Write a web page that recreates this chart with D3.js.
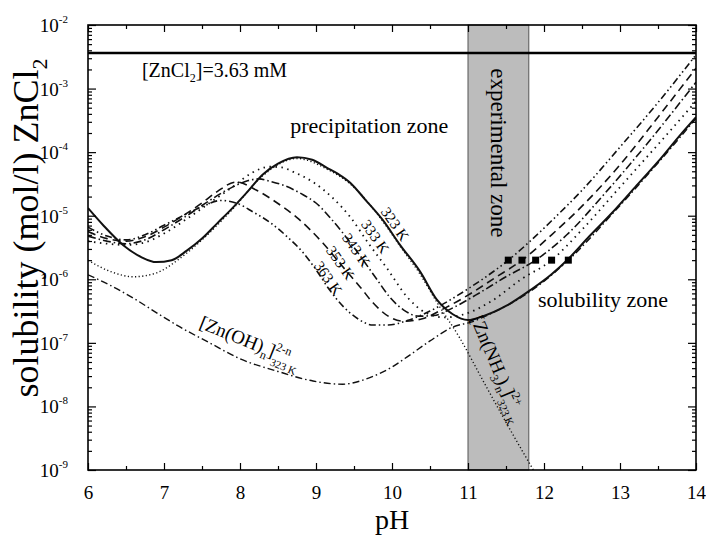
<!DOCTYPE html>
<html>
<head>
<meta charset="utf-8">
<script src="https://cdn.jsdelivr.net/npm/d3@7"></script>
<style>
  body { margin: 0; background: #fff; }
  svg { display: block; font-family: "Liberation Serif", "Times New Roman", serif; }
</style>
</head>
<body>
<div id="chart"></div>
<script>
// pH samples and log10(solubility), one pair per curve
const ph323 = [6.0, 6.2, 6.46, 6.7, 6.9, 7.1, 7.3, 7.5, 7.7, 7.9, 8.1, 8.3, 8.5, 8.75, 8.95, 9.15, 9.3, 9.45, 9.65, 9.88, 10.1, 10.37, 10.59, 10.8, 11.0, 11.2, 11.5, 11.82, 12.1, 12.32, 12.6, 12.9, 13.2, 13.5, 13.8, 14.0]
const lg323 = [-4.88, -5.15, -5.46, -5.65, -5.73, -5.7, -5.55, -5.36, -5.12, -4.88, -4.62, -4.35, -4.18, -4.08, -4.12, -4.25, -4.35, -4.48, -4.75, -5.07, -5.45, -5.88, -6.32, -6.55, -6.64, -6.58, -6.42, -6.17, -5.92, -5.68, -5.32, -4.95, -4.55, -4.15, -3.72, -3.45]

const ph333 = [6.0, 6.25, 6.5, 6.75, 7.0, 7.3, 7.6, 7.9, 8.15, 8.39, 8.55, 8.7, 8.96, 9.22, 9.45, 9.7, 9.93, 10.2, 10.45, 10.7, 10.95, 11.3, 11.7, 12.1, 12.5, 13.0, 13.5, 14.0]
const lg333 = [-5.4, -5.44, -5.46, -5.42, -5.28, -5.05, -4.8, -4.55, -4.33, -4.23, -4.24, -4.31, -4.47, -4.72, -5.02, -5.45, -5.82, -6.28, -6.53, -6.6, -6.55, -6.35, -6.0, -5.7, -5.22, -4.55, -3.88, -3.2]

const ph343 = [6.0, 6.25, 6.5, 6.75, 7.0, 7.3, 7.6, 7.9, 8.1, 8.25, 8.4, 8.57, 8.83, 9.0, 9.2, 9.5, 9.8, 9.97, 10.15, 10.35, 10.55, 10.8, 11.1, 11.5, 11.89, 12.3, 12.8, 13.3, 14.0]
const lg343 = [-5.32, -5.4, -5.44, -5.38, -5.22, -5.0, -4.76, -4.55, -4.45, -4.42, -4.46, -4.52, -4.67, -4.8, -5.05, -5.5, -6.0, -6.28, -6.48, -6.58, -6.57, -6.45, -6.25, -5.96, -5.7, -5.3, -4.65, -3.95, -2.9]

const ph353 = [6.0, 6.25, 6.5, 6.75, 7.0, 7.25, 7.5, 7.7, 7.95, 8.22, 8.49, 8.75, 9.09, 9.35, 9.58, 9.75, 9.95, 10.15, 10.4, 10.7, 11.0, 11.35, 11.71, 12.1, 12.5, 13.0, 13.5, 14.0]
const lg353 = [-5.25, -5.36, -5.4, -5.33, -5.18, -5.0, -4.8, -4.62, -4.47, -4.6, -4.8, -5.03, -5.43, -5.8, -6.12, -6.37, -6.58, -6.66, -6.62, -6.45, -6.25, -5.98, -5.7, -5.3, -4.85, -4.2, -3.45, -2.68]

const ph363 = [6.0, 6.25, 6.5, 6.75, 7.0, 7.25, 7.5, 7.75, 7.95, 8.17, 8.4, 8.62, 8.83, 9.0, 9.18, 9.36, 9.55, 9.75, 9.95, 10.2, 10.5, 10.8, 11.0, 11.25, 11.53, 11.8, 12.1, 12.5, 13.0, 13.5, 14.0]
const lg363 = [-5.18, -5.32, -5.38, -5.3, -5.15, -5.0, -4.86, -4.76, -4.8, -4.94, -5.11, -5.33, -5.58, -5.85, -6.17, -6.43, -6.62, -6.72, -6.72, -6.65, -6.5, -6.3, -6.15, -5.95, -5.7, -5.42, -5.08, -4.6, -3.92, -3.22, -2.47]

// species at 323 K
const phOH = [6.0, 6.3, 6.6, 7.0, 7.21, 7.6, 8.0, 8.5, 8.96, 9.35, 9.7, 10.0, 10.2, 10.5, 10.8, 11.05, 11.3, 11.82, 12.32, 12.9, 13.5, 14.0]
const lgOH = [-5.93, -6.1, -6.3, -6.6, -6.75, -7.0, -7.25, -7.45, -7.6, -7.65, -7.55, -7.38, -7.22, -6.97, -6.75, -6.67, -6.54, -6.19, -5.7, -4.97, -4.17, -3.47]

const phNH3 = [6.0, 6.3, 6.6, 6.9, 7.2, 7.5, 7.9, 8.3, 8.75, 9.15, 9.45, 9.88, 10.1, 10.37, 10.6, 10.89, 11.2, 11.5, 11.86]
const lgNH3 = [-5.7, -5.88, -5.96, -5.9, -5.68, -5.38, -4.9, -4.37, -4.1, -4.27, -4.5, -5.09, -5.47, -5.92, -6.38, -6.92, -7.6, -8.25, -9.0]

// markers, reference line, zone
const markerPH = [11.53, 11.71, 11.89, 12.1, 12.32]
const markerS = 2e-6
const zncl2 = 3.63e-3
const expZone = [11, 11.8]

const xTicks = [6, 7, 8, 9, 10, 11, 12, 13, 14]
const xMinor = [6.5, 7.5, 8.5, 9.5, 10.5, 11.5, 12.5, 13.5]
const yExp = [-9, -8, -7, -6, -5, -4, -3, -2]

const W = 706, H = 537
const m = {top: 25, right: 10, bottom: 67, left: 88}
const iw = W - m.left - m.right, ih = H - m.top - m.bottom

const svg = d3.select("#chart").append("svg").attr("width", W).attr("height", H)
const g = svg.append("g").attr("transform", `translate(${m.left},${m.top})`)

const x = d3.scaleLinear().domain([6, 14]).range([0, iw])
const y = d3.scaleLog().domain([1e-9, 1e-2]).range([ih, 0])
const yl = v => y(Math.pow(10, v))

svg.append("defs").append("clipPath").attr("id", "clip")
  .append("rect").attr("width", iw).attr("height", ih)

// experimental zone
g.append("rect")
  .attr("x", x(expZone[0])).attr("width", x(expZone[1]) - x(expZone[0]))
  .attr("y", 0).attr("height", ih)
  .attr("fill", "#bcbcbc").attr("stroke", "#555").attr("stroke-width", 1)

// curves
const series = [
  {ph: phOH, lg: lgOH, dash: "7,3,1.5,3", w: 1.4},
  {ph: phNH3, lg: lgNH3, dash: "1.2,2.4", w: 1.4},
  {ph: ph363, lg: lg363, dash: "7,3,1.5,3,1.5,3", w: 1.6},
  {ph: ph353, lg: lg353, dash: "8,5", w: 1.6},
  {ph: ph343, lg: lg343, dash: "8,3,1.5,3", w: 1.6},
  {ph: ph333, lg: lg333, dash: "1.5,4.5", w: 1.8},
  {ph: ph323, lg: lg323, dash: null, w: 2}
]

const line = d3.line().x(d => x(d[0])).y(d => yl(d[1])).curve(d3.curveMonotoneX)

g.append("g").attr("clip-path", "url(#clip)")
  .selectAll("path.curve").data(series).enter().append("path")
  .attr("class", "curve")
  .attr("d", s => line(d3.zip(s.ph, s.lg)))
  .attr("fill", "none").attr("stroke", "#111")
  .attr("stroke-width", s => s.w)
  .attr("stroke-dasharray", s => s.dash)

// ZnCl2 level
g.append("line").attr("x1", 0).attr("x2", iw).attr("y1", y(zncl2)).attr("y2", y(zncl2))
  .attr("stroke", "#000").attr("stroke-width", 2.6)

// markers
g.selectAll("rect.mk").data(markerPH).enter().append("rect").attr("class", "mk")
  .attr("x", d => x(d) - 3.5).attr("y", y(markerS) - 3.5)
  .attr("width", 7).attr("height", 7).attr("fill", "#000")

// axes
function styleAxis(sel) {
  sel.select(".domain").remove()
  sel.selectAll("line").attr("stroke", "#000").attr("stroke-width", 1.2)
  sel.selectAll("text").attr("fill", "#000")
}

g.append("g").attr("transform", `translate(0,${ih})`)
  .call(d3.axisBottom(x).tickValues(xTicks).tickFormat(d3.format("d")).tickSizeInner(-7).tickSizeOuter(0).tickPadding(16))
  .call(styleAxis)
  .selectAll("text").style("font-family", "Liberation Serif").style("font-size", "19px")
g.append("g").attr("transform", `translate(0,${ih})`)
  .call(d3.axisBottom(x).tickValues(xMinor).tickFormat("").tickSizeInner(-4).tickSizeOuter(0)).call(styleAxis)
g.append("g")
  .call(d3.axisTop(x).tickValues(xTicks).tickFormat("").tickSizeInner(-7).tickSizeOuter(0)).call(styleAxis)
g.append("g")
  .call(d3.axisTop(x).tickValues(xMinor).tickFormat("").tickSizeInner(-4).tickSizeOuter(0)).call(styleAxis)

const yMajor = yExp.map(e => Math.pow(10, e))
const yMinor = []
yExp.slice(0, -1).forEach(e => { for (let k = 2; k <= 9; k++) yMinor.push(k * Math.pow(10, e)) })

g.append("g").call(d3.axisLeft(y).tickValues(yMajor).tickFormat("").tickSizeInner(-8).tickSizeOuter(0)).call(styleAxis)
g.append("g").call(d3.axisLeft(y).tickValues(yMinor).tickFormat("").tickSizeInner(-4).tickSizeOuter(0)).call(styleAxis)
g.append("g").attr("transform", `translate(${iw},0)`)
  .call(d3.axisRight(y).tickValues(yMajor).tickFormat("").tickSizeInner(-8).tickSizeOuter(0)).call(styleAxis)
g.append("g").attr("transform", `translate(${iw},0)`)
  .call(d3.axisRight(y).tickValues(yMinor).tickFormat("").tickSizeInner(-4).tickSizeOuter(0)).call(styleAxis)

// y tick labels 10^n
const yLab = g.append("g").selectAll("text").data(yExp).enter().append("text")
  .attr("x", -20).attr("y", d => yl(d) + 7)
  .attr("text-anchor", "end").attr("font-size", 19)
yLab.append("tspan").text("10")
yLab.append("tspan").attr("dy", -9).attr("font-size", 11).text(d => d)

// frame
g.append("rect").attr("width", iw).attr("height", ih)
  .attr("fill", "none").attr("stroke", "#000").attr("stroke-width", 1.6)

// axis titles
svg.append("text").attr("x", m.left + iw / 2).attr("y", 529)
  .attr("text-anchor", "middle").attr("font-size", 28).text("pH")

const yt = svg.append("text").attr("transform", `translate(38,${(38 + 418) / 2}) rotate(-90)`)
  .attr("text-anchor", "middle").attr("font-size", 36)
yt.append("tspan").text("solubility (mol/l) ZnCl")
yt.append("tspan").attr("font-size", 22).attr("dy", 9).text("2")

// annotations (positions in data units)
function note(ph, lg, rot) {
  return g.append("text").attr("transform", `translate(${x(ph)},${yl(lg)}) rotate(${rot || 0})`)
}

const t1 = note(6.71, -2.82).attr("font-size", 20)
t1.append("tspan").text("[ZnCl")
t1.append("tspan").attr("font-size", 12).attr("dy", 5).text("2")
t1.append("tspan").attr("dy", -5).text("]=3.63 mM")

note(8.66, -3.70).attr("font-size", 22).text("precipitation zone")
note(11.92, -6.43).attr("font-size", 22).text("solubility zone")
note(11.30, -2.68, 90).attr("font-size", 23).text("experimental zone")

const tempLabels = [
  {t: "323 K", ph: 10.04, lg: -5.13},
  {t: "333 K", ph: 9.78, lg: -5.33},
  {t: "343 K", ph: 9.53, lg: -5.54},
  {t: "353 K", ph: 9.32, lg: -5.74},
  {t: "363 K", ph: 9.16, lg: -5.98}
]
tempLabels.forEach(d => {
  note(d.ph, d.lg, 55).attr("font-size", 15).attr("text-anchor", "middle")
    .attr("dominant-baseline", "central").text(d.t)
})

const t2 = note(7.45, -6.76, 22).attr("font-size", 19)
t2.append("tspan").text("[Zn(OH)")
t2.append("tspan").attr("font-size", 12).attr("dy", 5).text("n")
t2.append("tspan").attr("dy", -5).text("]")
t2.append("tspan").attr("font-size", 12).attr("dy", -8).text("2-n")
t2.append("tspan").attr("font-size", 11).attr("dx", -16).attr("dy", 16).text("323 K")

const t3 = note(11.03, -6.62, 67).attr("font-size", 19)
t3.append("tspan").text("[Zn(NH")
t3.append("tspan").attr("font-size", 12).attr("dy", 5).text("3")
t3.append("tspan").attr("dy", -5).text(")")
t3.append("tspan").attr("font-size", 12).attr("dy", 5).text("n")
t3.append("tspan").attr("dy", -5).text("]")
t3.append("tspan").attr("font-size", 12).attr("dy", -8).text("2+")
t3.append("tspan").attr("font-size", 11).attr("dx", -12).attr("dy", 16).text("323 K")
</script>
</body>
</html>
